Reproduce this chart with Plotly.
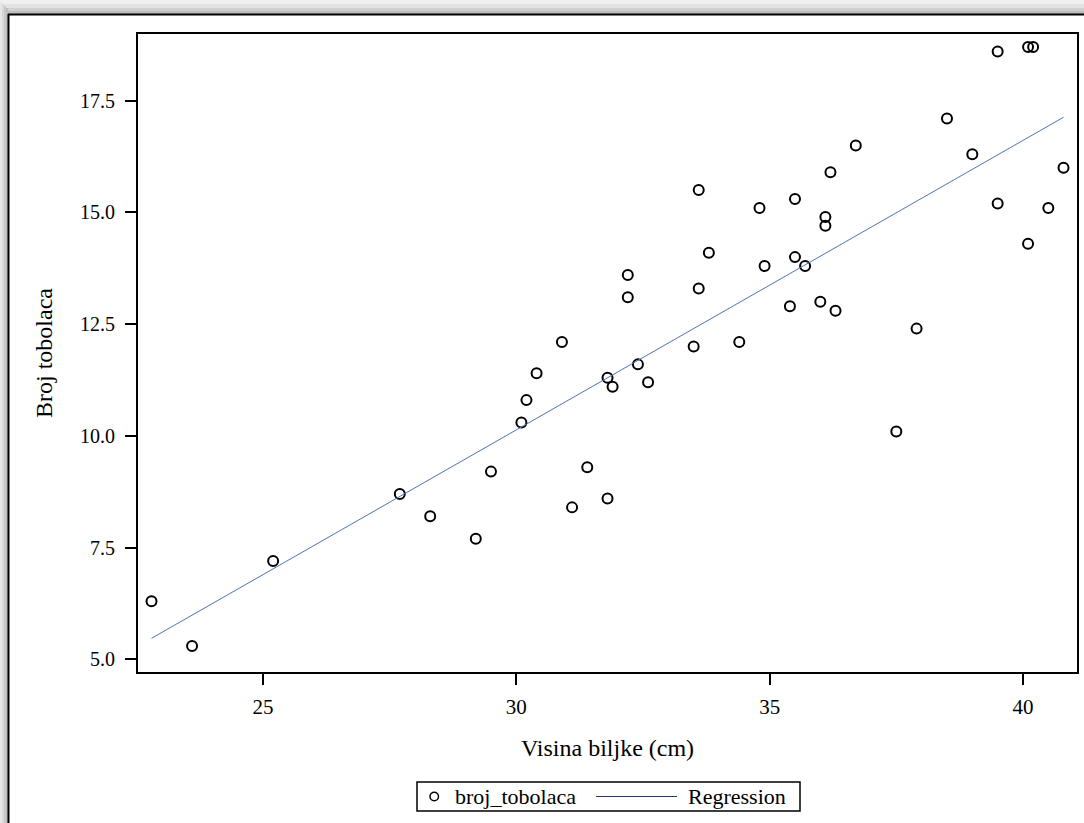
import plotly.graph_objects as go

# ---- data ----
visina = [22.8, 23.6, 25.2, 27.7, 28.3, 29.2, 29.5, 30.1, 30.2, 30.4, 30.9, 31.1,
          31.4, 31.8, 31.8, 31.9, 32.2, 32.2, 32.4, 32.6, 33.5, 33.6, 33.6, 33.8,
          34.4, 34.8, 34.9, 35.4, 35.5, 35.5, 35.7, 36.0, 36.1, 36.1, 36.2, 36.3,
          36.7, 37.5, 37.9, 38.5, 39.0, 39.5, 39.5, 40.1, 40.2, 40.1, 40.5, 40.8]
broj = [6.3, 5.3, 7.2, 8.7, 8.2, 7.7, 9.2, 10.3, 10.8, 11.4, 12.1, 8.4,
        9.3, 8.6, 11.3, 11.1, 13.6, 13.1, 11.6, 11.2, 12.0, 15.5, 13.3, 14.1,
        12.1, 15.1, 13.8, 12.9, 15.3, 14.0, 13.8, 13.0, 14.9, 14.7, 15.9, 12.8,
        16.5, 10.1, 12.4, 17.1, 16.3, 18.6, 15.2, 18.7, 18.7, 14.3, 15.1, 16.0]
reg_x = [22.8, 40.8]
reg_y = [5.47, 17.13]

x_ticks = [25, 30, 35, 40]
y_ticks = [5.0, 7.5, 10.0, 12.5, 15.0, 17.5]
y_ticklabels = ["5.0", "7.5", "10.0", "12.5", "15.0", "17.5"]

x_title = "Visina biljke (cm)"
y_title = "Broj tobolaca"
legend_names = ["broj_tobolaca", "Regression"]

# ---- layout geometry (pixels) ----
W, H = 1084, 823
L, R, T, B = 138, 1077, 34, 672
FONT = "Liberation Serif, Times New Roman, serif"
LINE_COLOR = "#5274b4"


def px(x):
    return (x - L) / (R - L)


def py(y):
    return (B - y) / (B - T)


fig = go.Figure()
fig.add_trace(go.Scatter(
    x=visina, y=broj, mode="markers", name=legend_names[0], showlegend=False,
    marker=dict(symbol="circle-open", size=10, color="black",
                line=dict(color="black", width=2)),
))
fig.add_trace(go.Scatter(
    x=reg_x, y=reg_y, mode="lines", name=legend_names[1], showlegend=False,
    line=dict(color=LINE_COLOR, width=1),
))

shapes = []
# shadow bands (top and left)
top_bands = [(0, 4, "#efefef"), (4, 8, "#e2e2e2"), (8, 11, "#d0d0d0"), (11, 14, "#bdbdbd")]
for y0, y1, c in top_bands:
    shapes.append(dict(type="rect", xref="paper", yref="paper",
                       x0=px(0), x1=px(W), y0=py(y1), y1=py(y0),
                       fillcolor=c, line=dict(width=0), layer="above"))
left_bands = [(0, 2, "#e6e6e6"), (2, 4, "#d8d8d8"), (4, 6, "#c8c8c8"), (6, 8, "#bcbcbc")]
for x0, x1, c in left_bands:
    shapes.append(dict(type="rect", xref="paper", yref="paper",
                       x0=px(x0), x1=px(x1), y0=py(H), y1=py(x0 + 2),
                       fillcolor=c, line=dict(width=0), layer="above"))
# frame border lines
shapes.append(dict(type="line", xref="paper", yref="paper",
                   x0=px(8), x1=px(W), y0=py(14.5), y1=py(14.5),
                   line=dict(color="black", width=2), layer="above"))
shapes.append(dict(type="line", xref="paper", yref="paper",
                   x0=px(8.5), x1=px(8.5), y0=py(14), y1=py(H),
                   line=dict(color="black", width=2), layer="above"))

# legend (drawn as box + symbols + text)
LG_L, LG_R, LG_T, LG_B = 417, 800, 782, 811
LG_Y = (LG_T + LG_B) / 2
shapes.append(dict(type="rect", xref="paper", yref="paper",
                   x0=px(LG_L), x1=px(LG_R), y0=py(LG_B), y1=py(LG_T),
                   line=dict(color="black", width=1.5), fillcolor="white", layer="above"))
shapes.append(dict(type="circle", xref="paper", yref="paper",
                   x0=px(430), x1=px(438.5), y0=py(LG_Y + 4.25), y1=py(LG_Y - 4.25),
                   line=dict(color="black", width=1.5), layer="above"))
shapes.append(dict(type="line", xref="paper", yref="paper",
                   x0=px(596), x1=px(677), y0=py(LG_Y), y1=py(LG_Y),
                   line=dict(color="#24386a", width=1), layer="above"))
annotations = [
    dict(text=legend_names[0], xref="paper", yref="paper", x=px(453), y=py(LG_Y),
         xanchor="left", yanchor="middle", showarrow=False,
         font=dict(family=FONT, size=22, color="black")),
    dict(text=legend_names[1], xref="paper", yref="paper", x=px(686), y=py(LG_Y),
         xanchor="left", yanchor="middle", showarrow=False,
         font=dict(family=FONT, size=22, color="black")),
]

fig.update_layout(
    width=W, height=H,
    margin=dict(l=L, r=W - R, t=T, b=H - B, pad=0),
    paper_bgcolor="white", plot_bgcolor="white",
    font=dict(family=FONT, color="black", size=20),
    shapes=shapes, annotations=annotations,
    showlegend=False,
    xaxis=dict(
        range=[22.533, 41.066], tickvals=x_ticks, ticktext=[str(v) for v in x_ticks],
        showgrid=False, zeroline=False, showline=True, mirror=True,
        linecolor="black", linewidth=2, ticks="outside", ticklen=11,
        tickwidth=1.5, tickcolor="black", tickfont=dict(family=FONT, size=21),
        ticklabelstandoff=4,
        title=dict(text=x_title, font=dict(family=FONT, size=24), standoff=21),
        automargin=False,
    ),
    yaxis=dict(
        range=[4.716, 18.993], tickvals=y_ticks, ticktext=y_ticklabels,
        showgrid=False, zeroline=False, showline=True, mirror=True,
        linecolor="black", linewidth=2, ticks="outside", ticklen=11,
        tickwidth=1.5, tickcolor="black", tickfont=dict(family=FONT, size=20),
        ticklabelstandoff=6,
        title=dict(text=y_title, font=dict(family=FONT, size=24), standoff=21),
        automargin=False,
    ),
)

fig.write_html("out.html", config={"displayModeBar": False},
               post_script="document.body.style.margin='0';")
